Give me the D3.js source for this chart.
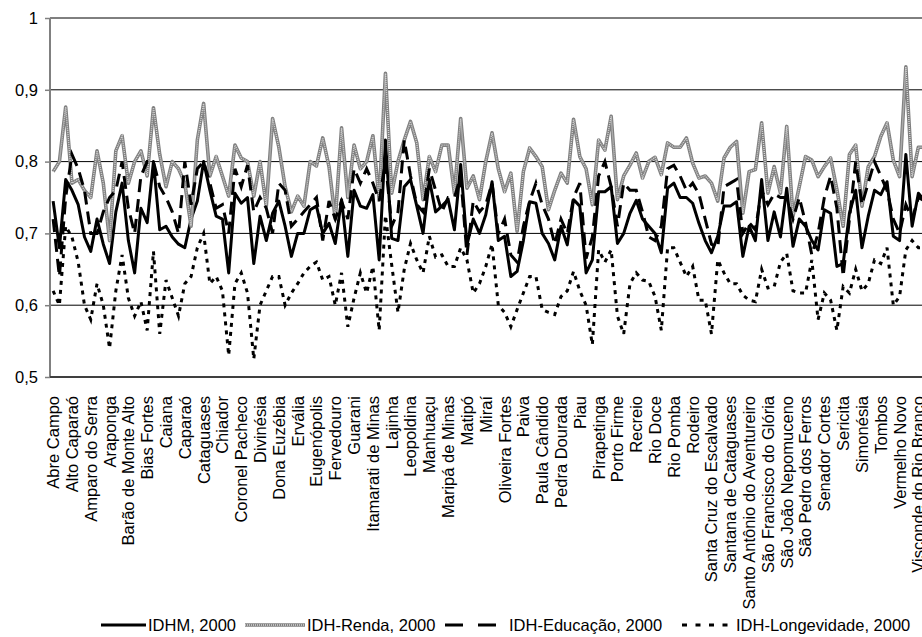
<html>
<meta charset="utf-8">
<head>
  <title>IDH 2000 - Zona da Mata</title>
  <style>
    body, html {
      margin: 0;
      padding: 0;
      background: white;
      overflow: hidden;
    }
    #chart {
      width: 922px;
      height: 637px;
    }
    text {
      font-family: 'Liberation Sans', Arial, sans-serif;
      font-size: 16.5px;
      fill: #000000;
    }
    .grid line {
      stroke: #000000;
      stroke-width: 1;
    }
  </style>
  <script src="https://d3js.org/d3.v7.min.js"></script>
</head>
<body>
<div id="chart"></div>
<script>
// municipios (rotulos aparecem de 3 em 3, como no grafico original)
var municipios = [
  "Abre Campo", "Acaiaca", "Além Paraíba", "Alto Caparaó", "Alto Jequitibá", "Alto Rio Doce",
  "Amparo do Serra", "Antônio Prado de Minas", "Aracitaba", "Araponga", "Argirita", "Astolfo Dutra",
  "Barão de Monte Alto", "Barra Longa", "Belmiro Braga", "Bias Fortes", "Bicas", "Brás Pires",
  "Caiana", "Cajuri", "Canaã", "Caparaó", "Caputira", "Carangola",
  "Cataguases", "Chácara", "Chalé", "Chiador", "Cipotânea", "Coimbra",
  "Coronel Pacheco", "Descoberto", "Desterro do Melo", "Divinésia", "Divino", "Dom Silvério",
  "Dona Euzébia", "Dores do Turvo", "Durandé", "Ervália", "Espera Feliz", "Estrela Dalva",
  "Eugenópolis", "Ewbank da Câmara", "Faria Lemos", "Fervedouro", "Goianá", "Guaraciaba",
  "Guarani", "Guidoval", "Guiricema", "Itamarati de Minas", "Jequeri", "Juiz de Fora",
  "Lajinha", "Lamim", "Laranjal", "Leopoldina", "Lima Duarte", "Luisburgo",
  "Manhuaçu", "Manhumirim", "Mar de Espanha", "Maripá de Minas", "Martins Soares", "Matias Barbosa",
  "Matipó", "Mercês", "Miradouro", "Miraí", "Muriaé", "Mutum",
  "Oliveira Fortes", "Oratórios", "Orizânia", "Paiva", "Palma", "Patrocínio do Muriaé",
  "Paula Cândido", "Pedra Bonita", "Pedra do Anta", "Pedra Dourada", "Pedro Teixeira", "Pequeri",
  "Piau", "Piedade de Ponte Nova", "Piranga", "Pirapetinga", "Piraúba", "Ponte Nova",
  "Porto Firme", "Presidente Bernardes", "Raul Soares", "Recreio", "Reduto", "Rio Casca",
  "Rio Doce", "Rio Espera", "Rio Novo", "Rio Pomba", "Rio Preto", "Rochedo de Minas",
  "Rodeiro", "Rosário da Limeira", "Santa Bárbara do Monte Verde", "Santa Cruz do Escalvado", "Santa Margarida", "Santa Rita de Jacutinga",
  "Santana de Cataguases", "Santana do Deserto", "Santana do Manhuaçu", "Santo Antônio do Aventureiro", "Santos Dumont", "São Domingos das Dores",
  "São Francisco do Glória", "São Geraldo", "São João do Manhuaçu", "São João Nepomuceno", "São José do Mantimento", "São Miguel do Anta",
  "São Pedro dos Ferros", "São Sebastião da Vargem Alegre", "Sem-Peixe", "Senador Cortes", "Senador Firmino", "Senhora de Oliveira",
  "Sericita", "Silveirânia", "Simão Pereira", "Simonésia", "Tabuleiro", "Teixeiras",
  "Tombos", "Ubá", "Urucânia", "Vermelho Novo", "Viçosa", "Vieiras",
  "Visconde do Rio Branco", "Volta Grande"
];

var idhm = [
  0.745, 0.68, 0.775, 0.76, 0.74, 0.695, 0.675, 0.72, 0.685, 0.658, 0.73, 0.77,
  0.69, 0.645, 0.735, 0.715, 0.80, 0.705, 0.71, 0.695, 0.685, 0.68, 0.72, 0.745,
  0.80, 0.76, 0.724, 0.72, 0.645, 0.756, 0.742, 0.75, 0.658, 0.724, 0.69, 0.728,
  0.745, 0.71, 0.668, 0.70, 0.70, 0.733, 0.738, 0.70, 0.714, 0.686, 0.747, 0.668,
  0.76, 0.738, 0.735, 0.754, 0.663, 0.83, 0.693, 0.69, 0.765, 0.775, 0.738, 0.70,
  0.775, 0.73, 0.738, 0.747, 0.705, 0.796, 0.684, 0.72, 0.70, 0.726, 0.772, 0.69,
  0.696, 0.64, 0.647, 0.69, 0.744, 0.742, 0.70, 0.686, 0.663, 0.71, 0.684, 0.747,
  0.738, 0.645, 0.663, 0.758, 0.758, 0.765, 0.686, 0.70, 0.728, 0.746, 0.72, 0.71,
  0.70, 0.673, 0.763, 0.77, 0.75, 0.75, 0.742, 0.714, 0.69, 0.673, 0.696, 0.738,
  0.738, 0.744, 0.668, 0.71, 0.69, 0.775, 0.69, 0.73, 0.695, 0.763, 0.682, 0.72,
  0.71, 0.69, 0.677, 0.733, 0.728, 0.654, 0.658, 0.728, 0.76, 0.68, 0.724, 0.76,
  0.754, 0.772, 0.696, 0.69, 0.81, 0.71, 0.756, 0.745
];

var idh_renda = [
  0.786, 0.80, 0.876, 0.77, 0.775, 0.76, 0.75, 0.815, 0.77, 0.69, 0.815, 0.836,
  0.77, 0.80, 0.815, 0.78, 0.875, 0.81, 0.765, 0.80, 0.79, 0.77, 0.71, 0.83,
  0.881, 0.78, 0.807, 0.78, 0.752, 0.823, 0.805, 0.80, 0.752, 0.80, 0.738, 0.86,
  0.82, 0.765, 0.73, 0.752, 0.738, 0.80, 0.794, 0.833, 0.793, 0.72, 0.847, 0.75,
  0.823, 0.79, 0.80, 0.836, 0.747, 0.923, 0.756, 0.80, 0.83, 0.856, 0.826, 0.747,
  0.807, 0.786, 0.823, 0.823, 0.756, 0.86, 0.763, 0.78, 0.747, 0.80, 0.84, 0.79,
  0.758, 0.784, 0.703, 0.786, 0.819, 0.807, 0.793, 0.733, 0.76, 0.784, 0.77, 0.859,
  0.807, 0.79, 0.74, 0.83, 0.816, 0.863, 0.747, 0.78, 0.795, 0.812, 0.777, 0.80,
  0.806, 0.782, 0.826, 0.82, 0.82, 0.833, 0.798, 0.777, 0.78, 0.77, 0.745, 0.805,
  0.82, 0.828, 0.728, 0.786, 0.789, 0.854, 0.756, 0.793, 0.756, 0.849, 0.724, 0.765,
  0.807, 0.802, 0.779, 0.793, 0.805, 0.761, 0.71, 0.81, 0.823, 0.738, 0.793, 0.807,
  0.835, 0.854, 0.802, 0.779, 0.932, 0.779, 0.82, 0.82
];

var idh_educacao = [
  0.72, 0.64, 0.75, 0.81, 0.79, 0.76, 0.70, 0.70, 0.73, 0.75, 0.76, 0.80,
  0.735, 0.70, 0.78, 0.80, 0.80, 0.765, 0.75, 0.73, 0.70, 0.80, 0.74, 0.79,
  0.80, 0.77, 0.735, 0.74, 0.70, 0.79, 0.765, 0.795, 0.73, 0.75, 0.735, 0.70,
  0.77, 0.76, 0.71, 0.72, 0.73, 0.74, 0.75, 0.69, 0.745, 0.72, 0.745, 0.72,
  0.79, 0.77, 0.79, 0.77, 0.745, 0.80, 0.71, 0.73, 0.83, 0.78, 0.74, 0.73,
  0.79, 0.76, 0.73, 0.75, 0.75, 0.78, 0.67, 0.745, 0.73, 0.74, 0.77, 0.70,
  0.72, 0.67, 0.66, 0.71, 0.745, 0.77, 0.74, 0.72, 0.685, 0.72, 0.70, 0.75,
  0.77, 0.665, 0.695, 0.78, 0.80, 0.765, 0.71, 0.77, 0.76, 0.76, 0.73, 0.695,
  0.69, 0.71, 0.79, 0.795, 0.78, 0.76, 0.77, 0.755, 0.72, 0.685, 0.68, 0.765,
  0.77, 0.775, 0.70, 0.715, 0.705, 0.76, 0.74, 0.755, 0.75, 0.75, 0.72, 0.75,
  0.715, 0.67, 0.70, 0.75, 0.78, 0.735, 0.64, 0.72, 0.80, 0.74, 0.77, 0.80,
  0.78, 0.76, 0.72, 0.70, 0.74, 0.72, 0.75, 0.745
];

var idh_longevidade = [
  0.62, 0.60, 0.71, 0.695, 0.66, 0.60, 0.58, 0.63, 0.60, 0.54, 0.62, 0.67,
  0.61, 0.585, 0.605, 0.565, 0.675, 0.56, 0.635, 0.61, 0.585, 0.63, 0.64, 0.68,
  0.70, 0.63, 0.64, 0.62, 0.53, 0.63, 0.645, 0.617, 0.525, 0.60, 0.62, 0.64,
  0.64, 0.60, 0.617, 0.63, 0.645, 0.654, 0.66, 0.635, 0.64, 0.60, 0.645, 0.57,
  0.61, 0.645, 0.617, 0.654, 0.565, 0.725, 0.656, 0.59, 0.65, 0.686, 0.663, 0.645,
  0.696, 0.667, 0.67, 0.654, 0.654, 0.68, 0.663, 0.617, 0.63, 0.654, 0.685, 0.60,
  0.59, 0.57, 0.594, 0.617, 0.64, 0.64, 0.594, 0.59, 0.587, 0.612, 0.62, 0.647,
  0.62, 0.60, 0.545, 0.677, 0.66, 0.677, 0.585, 0.56, 0.63, 0.645, 0.635, 0.633,
  0.612, 0.565, 0.68, 0.68, 0.66, 0.64, 0.654, 0.607, 0.607, 0.56, 0.663, 0.645,
  0.63, 0.63, 0.614, 0.607, 0.605, 0.65, 0.624, 0.626, 0.66, 0.672, 0.62, 0.617,
  0.617, 0.663, 0.58, 0.617, 0.607, 0.565, 0.626, 0.617, 0.65, 0.62, 0.63, 0.663,
  0.658, 0.68, 0.60, 0.612, 0.677, 0.69, 0.68, 0.68
];

var y_ticks = [0.5, 0.6, 0.7, 0.8, 0.9, 1];

var series = [
  { nome: "IDHM, 2000",            valores: idhm,            estilo: "solido" },
  { nome: "IDH-Renda, 2000",       valores: idh_renda,       estilo: "cinza" },
  { nome: "IDH-Educação, 2000",    valores: idh_educacao,    estilo: "tracejado" },
  { nome: "IDH-Longevidade, 2000", valores: idh_longevidade, estilo: "pontilhado" }
];

var br = d3.formatLocale({ decimal: ",", thousands: ".", grouping: [3], currency: ["R$", ""] });
var fmt_tick = function(d) { return(d === 1 ? "1" : br.format(".1f")(d)); };

var width = 922;
var height = 637;
var left = 50;
var top_y = 18;
var bottom_y = 377;
var band = 6.27;

var svg = d3.select("#chart")
            .append("svg")
            .attr("width", width)
            .attr("height", height);

var scale_x = d3.scaleBand()
                .domain(municipios)
                .range([left, left + band * municipios.length])
                .padding(0);

var scale_y = d3.scaleLinear()
                .domain([0.5, 1])
                .range([bottom_y, top_y]);

function cx(d) { return(scale_x(d) + scale_x.bandwidth() / 2); }

// linhas de grade
svg.append("g")
   .attr("class", "grid")
   .selectAll("line")
   .data(y_ticks)
   .enter()
   .append("line")
   .attr("x1", left)
   .attr("x2", width)
   .attr("y1", function(d) { return(scale_y(d)); })
   .attr("y2", function(d) { return(scale_y(d)); });

// eixo y
var y_axis = d3.axisLeft(scale_y)
               .tickValues(y_ticks)
               .tickSize(5)
               .tickPadding(7)
               .tickFormat(fmt_tick);

var gy = svg.append("g")
            .attr("transform", "translate(" + left + ",0)")
            .call(y_axis);
gy.select(".domain").remove();
gy.selectAll(".tick line").attr("stroke", "#808080").attr("stroke-width", 1.5);
gy.selectAll("text")
  .style("font-family", "'Liberation Sans', Arial, sans-serif")
  .style("font-size", "16.5px")
  .attr("fill", "#000");

svg.append("line")
   .attr("x1", left).attr("x2", left)
   .attr("y1", top_y).attr("y2", bottom_y)
   .attr("stroke", "#808080")
   .attr("stroke-width", 2);

// eixo x (rotulos de 3 em 3)
var x_axis = d3.axisBottom(scale_x)
               .tickValues(municipios.filter(function(d, i) { return(i % 3 === 0); }))
               .tickSize(0)
               .tickPadding(0);

var gx = svg.append("g")
            .attr("transform", "translate(0," + bottom_y + ")")
            .call(x_axis);
gx.select(".domain").remove();
gx.selectAll("text")
  .style("font-family", "'Liberation Sans', Arial, sans-serif")
  .style("font-size", "16.5px")
  .attr("fill", "#000")
  .attr("text-anchor", "end")
  .attr("transform", "translate(0,19) rotate(-90)")
  .attr("x", 0)
  .attr("y", 0)
  .attr("dy", "0.36em");

svg.append("line")
   .attr("x1", left).attr("x2", width)
   .attr("y1", bottom_y).attr("y2", bottom_y)
   .attr("stroke", "#000")
   .attr("stroke-width", 1);

// series
var linha = d3.line()
              .x(function(d, i) { return(cx(municipios[i])); })
              .y(function(d) { return(scale_y(d)); });

function desenha(g, estilo, dados) {
  if (estilo == "cinza") {
    g.append("path").attr("d", dados).attr("fill", "none")
     .attr("stroke", "#808080").attr("stroke-width", 3.6)
     .attr("stroke-linejoin", "round");
    g.append("path").attr("d", dados).attr("fill", "none")
     .attr("stroke", "#d4d4d4").attr("stroke-width", 1.4)
     .attr("stroke-dasharray", "1,1");
  } else if (estilo == "solido") {
    g.append("path").attr("d", dados).attr("fill", "none")
     .attr("stroke", "#000").attr("stroke-width", 3)
     .attr("stroke-linejoin", "round");
  } else if (estilo == "tracejado") {
    g.append("path").attr("d", dados).attr("fill", "none")
     .attr("stroke", "#000").attr("stroke-width", 3)
     .attr("stroke-dasharray", "13,7");
  } else {
    g.append("path").attr("d", dados).attr("fill", "none")
     .attr("stroke", "#000").attr("stroke-width", 3)
     .attr("stroke-dasharray", "4,5");
  }
}

series.forEach(function(s) {
  var g = svg.append("g").attr("class", "serie");
  desenha(g, s.estilo, linha(s.valores));
});

// legenda
var legenda = [
  { x1: 101, x2: 146, tx: 148 },
  { x1: 245, x2: 305, tx: 307 },
  { x1: 445, x2: 496, tx: 509 },
  { x1: 682, x2: 734, tx: 736 }
];
var ly = 625;

series.forEach(function(s, i) {
  var p = legenda[i];
  var g = svg.append("g").attr("class", "legenda");
  var d = "M" + p.x1 + "," + ly + "L" + p.x2 + "," + ly;
  if (s.estilo == "tracejado") {
    g.append("path").attr("d", d).attr("fill", "none")
     .attr("stroke", "#000").attr("stroke-width", 3)
     .attr("stroke-dasharray", "18,15");
  } else if (s.estilo == "pontilhado") {
    g.append("path").attr("d", d).attr("fill", "none")
     .attr("stroke", "#000").attr("stroke-width", 3)
     .attr("stroke-dasharray", "5,8.5");
  } else {
    desenha(g, s.estilo, d);
  }
  g.append("text")
   .attr("x", p.tx)
   .attr("y", ly + 6)
   .text(s.nome);
});
</script>
</body>
</html>
